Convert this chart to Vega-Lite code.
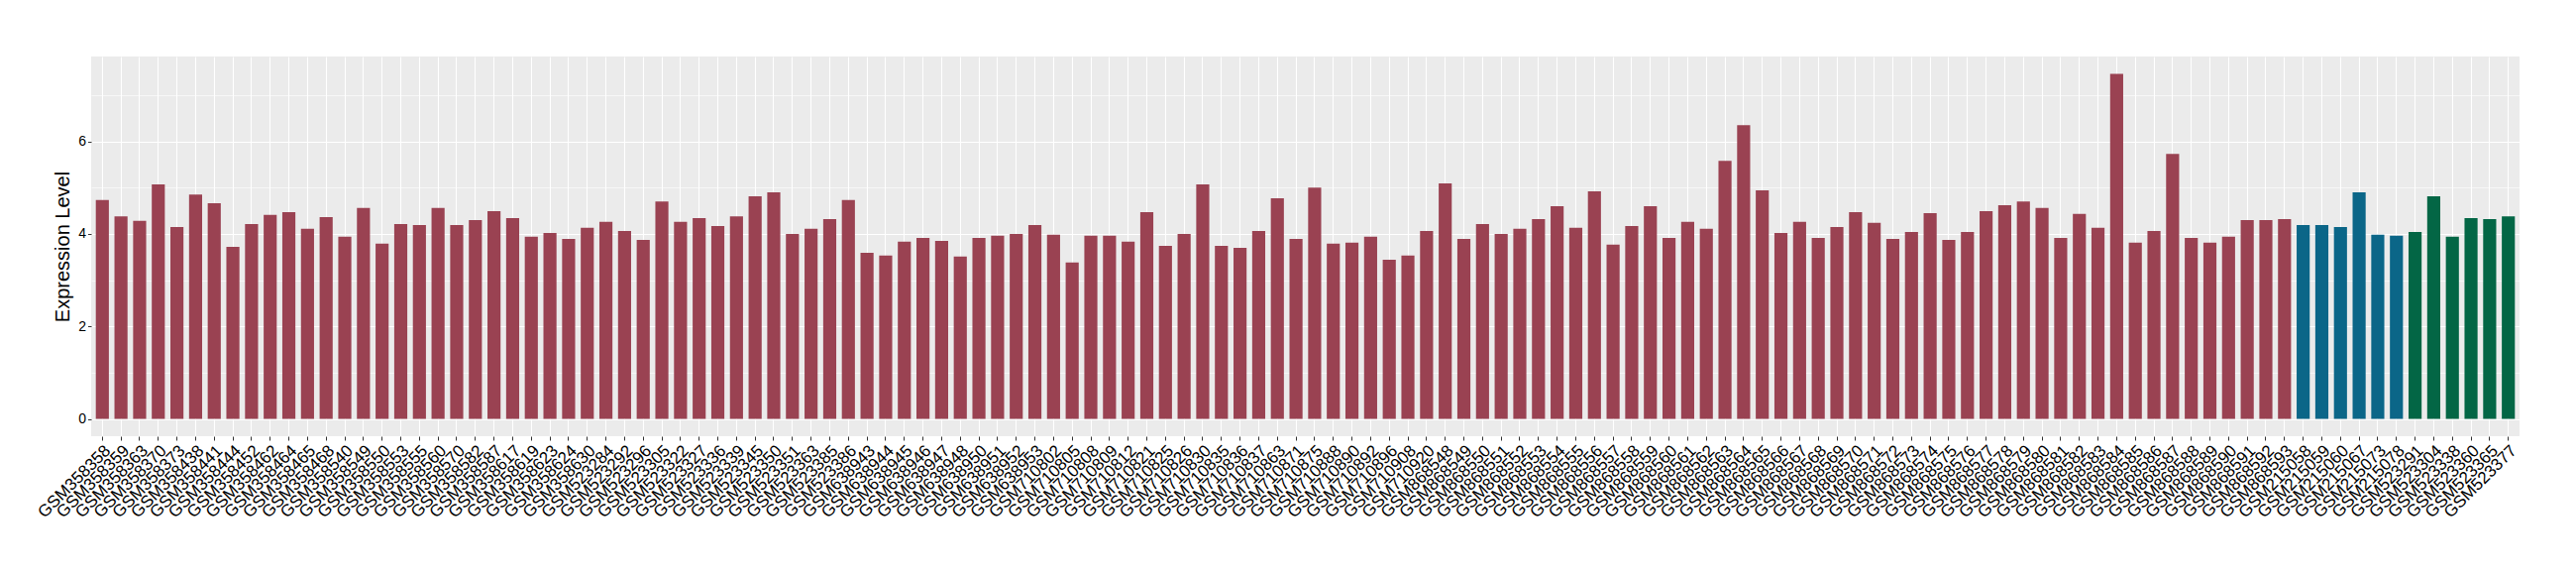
{
  "$schema": "https://vega.github.io/schema/vega-lite/v6.json",
  "autosize": "none",
  "padding": {"left": 92, "top": 57, "right": 57, "bottom": 140},
  "width": 2451,
  "height": 383,
  "background": "white",
  "view": {"fill": "#EBEBEB", "stroke": null},
  "config": {"font": "Liberation Sans"},
  "data": {"values": [
    {"s":"GSM358358","v":4.73,"g":"A"},{"s":"GSM358359","v":4.38,"g":"A"},{"s":"GSM358363","v":4.28,"g":"A"},{"s":"GSM358370","v":5.07,"g":"A"},{"s":"GSM358373","v":4.15,"g":"A"},{"s":"GSM358438","v":4.85,"g":"A"},{"s":"GSM358441","v":4.66,"g":"A"},{"s":"GSM358444","v":3.72,"g":"A"},{"s":"GSM358452","v":4.21,"g":"A"},{"s":"GSM358462","v":4.41,"g":"A"},{"s":"GSM358464","v":4.47,"g":"A"},{"s":"GSM358465","v":4.11,"g":"A"},{"s":"GSM358468","v":4.36,"g":"A"},{"s":"GSM358540","v":3.94,"g":"A"},{"s":"GSM358549","v":4.56,"g":"A"},{"s":"GSM358550","v":3.79,"g":"A"},{"s":"GSM358553","v":4.21,"g":"A"},{"s":"GSM358555","v":4.19,"g":"A"},{"s":"GSM358560","v":4.56,"g":"A"},{"s":"GSM358570","v":4.19,"g":"A"},{"s":"GSM358582","v":4.30,"g":"A"},{"s":"GSM358587","v":4.49,"g":"A"},{"s":"GSM358617","v":4.34,"g":"A"},{"s":"GSM358619","v":3.94,"g":"A"},{"s":"GSM358623","v":4.02,"g":"A"},{"s":"GSM358624","v":3.89,"g":"A"},{"s":"GSM358630","v":4.13,"g":"A"},
    {"s":"GSM523284","v":4.26,"g":"A"},{"s":"GSM523292","v":4.06,"g":"A"},{"s":"GSM523296","v":3.87,"g":"A"},{"s":"GSM523305","v":4.70,"g":"A"},{"s":"GSM523322","v":4.26,"g":"A"},{"s":"GSM523327","v":4.34,"g":"A"},{"s":"GSM523336","v":4.17,"g":"A"},{"s":"GSM523339","v":4.38,"g":"A"},{"s":"GSM523345","v":4.81,"g":"A"},{"s":"GSM523350","v":4.90,"g":"A"},{"s":"GSM523351","v":4.00,"g":"A"},{"s":"GSM523363","v":4.11,"g":"A"},{"s":"GSM523385","v":4.32,"g":"A"},{"s":"GSM523386","v":4.73,"g":"A"},
    {"s":"GSM638943","v":3.59,"g":"A"},{"s":"GSM638944","v":3.53,"g":"A"},{"s":"GSM638945","v":3.83,"g":"A"},{"s":"GSM638946","v":3.91,"g":"A"},{"s":"GSM638947","v":3.85,"g":"A"},{"s":"GSM638948","v":3.51,"g":"A"},{"s":"GSM638950","v":3.91,"g":"A"},{"s":"GSM638951","v":3.96,"g":"A"},{"s":"GSM638952","v":4.00,"g":"A"},{"s":"GSM638953","v":4.19,"g":"A"},
    {"s":"GSM710802","v":3.98,"g":"A"},{"s":"GSM710805","v":3.38,"g":"A"},{"s":"GSM710808","v":3.96,"g":"A"},{"s":"GSM710809","v":3.96,"g":"A"},{"s":"GSM710812","v":3.83,"g":"A"},{"s":"GSM710821","v":4.47,"g":"A"},{"s":"GSM710825","v":3.74,"g":"A"},{"s":"GSM710826","v":4.00,"g":"A"},{"s":"GSM710830","v":5.07,"g":"A"},{"s":"GSM710835","v":3.74,"g":"A"},{"s":"GSM710836","v":3.70,"g":"A"},{"s":"GSM710837","v":4.06,"g":"A"},{"s":"GSM710863","v":4.77,"g":"A"},{"s":"GSM710871","v":3.89,"g":"A"},{"s":"GSM710875","v":5.00,"g":"A"},{"s":"GSM710888","v":3.79,"g":"A"},{"s":"GSM710890","v":3.81,"g":"A"},{"s":"GSM710892","v":3.94,"g":"A"},{"s":"GSM710896","v":3.44,"g":"A"},{"s":"GSM710908","v":3.53,"g":"A"},{"s":"GSM710920","v":4.06,"g":"A"},
    {"s":"GSM868548","v":5.09,"g":"A"},{"s":"GSM868549","v":3.89,"g":"A"},{"s":"GSM868550","v":4.21,"g":"A"},{"s":"GSM868551","v":4.00,"g":"A"},{"s":"GSM868552","v":4.11,"g":"A"},{"s":"GSM868553","v":4.32,"g":"A"},{"s":"GSM868554","v":4.60,"g":"A"},{"s":"GSM868555","v":4.13,"g":"A"},{"s":"GSM868556","v":4.92,"g":"A"},{"s":"GSM868557","v":3.77,"g":"A"},{"s":"GSM868558","v":4.17,"g":"A"},{"s":"GSM868559","v":4.60,"g":"A"},{"s":"GSM868560","v":3.91,"g":"A"},{"s":"GSM868561","v":4.26,"g":"A"},{"s":"GSM868562","v":4.11,"g":"A"},{"s":"GSM868563","v":5.58,"g":"A"},{"s":"GSM868564","v":6.35,"g":"A"},{"s":"GSM868565","v":4.94,"g":"A"},{"s":"GSM868566","v":4.02,"g":"A"},{"s":"GSM868567","v":4.26,"g":"A"},{"s":"GSM868568","v":3.91,"g":"A"},{"s":"GSM868569","v":4.15,"g":"A"},{"s":"GSM868570","v":4.47,"g":"A"},{"s":"GSM868571","v":4.24,"g":"A"},{"s":"GSM868572","v":3.89,"g":"A"},{"s":"GSM868573","v":4.04,"g":"A"},{"s":"GSM868574","v":4.45,"g":"A"},{"s":"GSM868575","v":3.87,"g":"A"},{"s":"GSM868576","v":4.04,"g":"A"},{"s":"GSM868577","v":4.49,"g":"A"},{"s":"GSM868578","v":4.62,"g":"A"},{"s":"GSM868579","v":4.70,"g":"A"},{"s":"GSM868580","v":4.56,"g":"A"},{"s":"GSM868581","v":3.91,"g":"A"},{"s":"GSM868582","v":4.43,"g":"A"},{"s":"GSM868583","v":4.13,"g":"A"},{"s":"GSM868584","v":7.46,"g":"A"},{"s":"GSM868585","v":3.81,"g":"A"},{"s":"GSM868586","v":4.06,"g":"A"},{"s":"GSM868587","v":5.73,"g":"A"},{"s":"GSM868588","v":3.91,"g":"A"},{"s":"GSM868589","v":3.81,"g":"A"},{"s":"GSM868590","v":3.94,"g":"A"},{"s":"GSM868591","v":4.30,"g":"A"},{"s":"GSM868592","v":4.30,"g":"A"},{"s":"GSM868593","v":4.32,"g":"A"},
    {"s":"GSM215058","v":4.19,"g":"B"},{"s":"GSM215059","v":4.19,"g":"B"},{"s":"GSM215060","v":4.15,"g":"B"},{"s":"GSM215067","v":4.90,"g":"B"},{"s":"GSM215073","v":3.98,"g":"B"},{"s":"GSM215078","v":3.96,"g":"B"},
    {"s":"GSM523291","v":4.04,"g":"C"},{"s":"GSM523304","v":4.81,"g":"C"},{"s":"GSM523338","v":3.94,"g":"C"},{"s":"GSM523360","v":4.34,"g":"C"},{"s":"GSM523365","v":4.32,"g":"C"},{"s":"GSM523377","v":4.38,"g":"C"}
  ]},
  "mark": {"type": "bar"},
  "encoding": {
    "x": {
      "field": "s", "type": "nominal", "sort": null, "title": null,
      "scale": {"paddingInner": 0.3, "paddingOuter": 0.25},
      "axis": {
        "bandPosition": 0.5,
        "labelAngle": -45, "labelAlign": "right", "labelBaseline": "top",
        "labelFontSize": 17, "labelColor": "#000000", "labelPadding": 2,
        "labelOverlap": false, "labelFont": "Liberation Sans",
        "tickSize": 4, "tickColor": "#333333", "tickWidth": 1,
        "domain": false,
        "grid": true, "gridColor": "#FFFFFF", "gridWidth": 1.1
      }
    },
    "y": {
      "field": "v", "type": "quantitative",
      "title": "Expression Level",
      "scale": {"domain": [-0.373, 7.833], "nice": false, "zero": false},
      "axis": {
        "values": [0, 1, 2, 3, 4, 5, 6, 7],
        "labelExpr": "datum.value % 2 === 0 ? datum.label : ''",
        "labelFontSize": 14, "labelColor": "#000000", "labelPadding": 2,
        "tickSize": 3.5, "tickColor": "#333333",
        "tickOpacity": {"condition": {"test": "datum.value % 2 === 1", "value": 0}, "value": 1},
        "domain": false,
        "grid": true, "gridColor": "#FFFFFF",
        "gridWidth": {"condition": {"test": "datum.value % 2 === 1", "value": 0.6}, "value": 1.2},
        "titleFontSize": 20, "titleFontWeight": "normal", "titleColor": "#000000",
        "titlePadding": 5, "titleFont": "Liberation Sans"
      }
    },
    "y2": {"datum": 0},
    "color": {
      "field": "g", "type": "nominal", "legend": null,
      "scale": {"domain": ["A", "B", "C"], "range": ["#9A4252", "#0B6688", "#036645"]}
    }
  }
}
